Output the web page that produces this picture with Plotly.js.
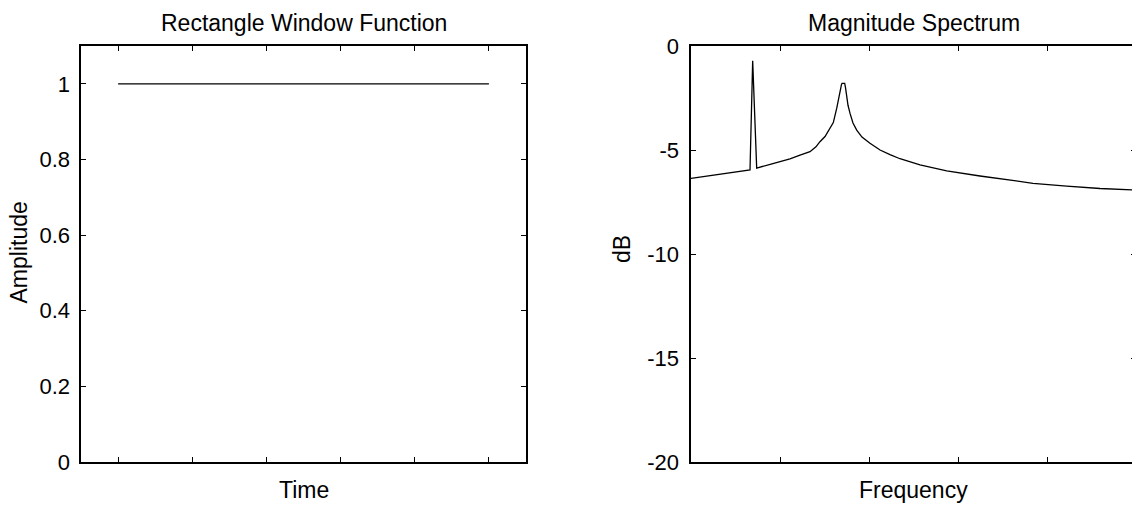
<!DOCTYPE html>
<html>
<head>
<meta charset="utf-8">
<script src="https://cdn.plot.ly/plotly-3.0.1.min.js"></script>
<style>
html, body { margin: 0; padding: 0; overflow: hidden; background: #fff; }
#chart { width: 1140px; height: 512px; }
</style>
</head>
<body>
<div id="chart"></div>
<script>
// Rectangle window (time domain)
var windowTime = [0, 100, 200, 300, 400, 500];
var windowAmp = [1, 1, 1, 1, 1, 1];
var timeTicks = [0, 100, 200, 300, 400, 500];
var ampTicks = [0, 0.2, 0.4, 0.6, 0.8, 1];
var ampLabels = ['0', '0.2', '0.4', '0.6', '0.8', '1'];

// Magnitude spectrum (dB)
var freq = [0, 33, 66.3, 69.3, 73.8, 92, 111.2, 122.5, 133.7, 140.4, 144.9, 150.6, 156.2, 159.9,
            163.7, 165.5, 167.4, 169.1, 169.7, 172.7, 173.6, 174.9, 176.4, 178.7, 182, 186.2,
            192.1, 201.1, 212.4, 223.6, 234.8, 257.3, 287.3, 324.7, 358.4, 384.3, 422.1, 459.6, 500];
var magDb = [-6.36, -6.17, -5.96, -0.71, -5.87, -5.65, -5.43, -5.25, -5.08, -4.85, -4.6, -4.35, -3.96, -3.68,
             -3.0, -2.55, -2.2, -1.85, -1.8, -1.8, -2.0, -2.4, -2.85, -3.24, -3.7, -4.04,
             -4.38, -4.68, -5.0, -5.22, -5.42, -5.72, -6.0, -6.25, -6.45, -6.6, -6.74, -6.85, -6.93];
var freqTicks = [0, 100, 200, 300, 400, 500];
var dbTicks = [-20, -15, -10, -5, 0];
var dbLabels = ['-20', '-15', '-10', '-5', '0'];

var W = 1140, H = 512;
function px(x) { return x / W; }
function py(y) { return 1 - y / H; }

var FONT = 'Liberation Sans, Arial, Helvetica, sans-serif';

var traces = [
  { x: windowTime, y: windowAmp, type: 'scatter', mode: 'lines',
    line: { color: '#000', width: 1.2 }, xaxis: 'x', yaxis: 'y', hoverinfo: 'none' },
  { x: freq, y: magDb, type: 'scatter', mode: 'lines',
    line: { color: '#000', width: 1.3, shape: 'linear' }, xaxis: 'x2', yaxis: 'y2', hoverinfo: 'none' }
];

var axCommon = {
  showline: true, linecolor: '#000', linewidth: 1.6, mirror: 'ticks',
  ticks: 'inside', ticklen: 5, tickcolor: '#000', tickwidth: 1,
  showgrid: false, zeroline: false, automargin: false,
  tickfont: { family: FONT, size: 22, color: '#000' }
};

function ax(extra) { return Object.assign({}, axCommon, extra); }

var layout = {
  width: W, height: H,
  margin: { l: 0, r: 0, t: 0, b: 0 },
  paper_bgcolor: '#fff', plot_bgcolor: '#fff',
  showlegend: false,
  font: { family: FONT, size: 22, color: '#000' },
  xaxis: ax({ domain: [px(81), px(526)], range: [-50, 550], tickvals: timeTicks,
              showticklabels: false, anchor: 'y' }),
  yaxis: ax({ domain: [py(462), py(46)], range: [0, 1.1], tickmode: 'array',
              tickvals: ampTicks, ticktext: ampLabels, anchor: 'x', ticklabelstandoff: 5 }),
  xaxis2: ax({ domain: [px(691), px(1136)], range: [0, 500], tickvals: freqTicks,
               showticklabels: false, anchor: 'y2' }),
  yaxis2: ax({ domain: [py(462), py(46)], range: [-20, 0], tickmode: 'array',
               tickvals: dbTicks, ticktext: dbLabels, anchor: 'x2', ticklabelstandoff: 6 }),
  annotations: [
    { text: 'Rectangle Window Function', xref: 'paper', yref: 'paper', x: px(303.5), y: py(22.5),
      xanchor: 'center', yanchor: 'middle', showarrow: false, font: { size: 23 } },
    { text: 'Magnitude Spectrum', xref: 'paper', yref: 'paper', x: px(913.5), y: py(22.5),
      xanchor: 'center', yanchor: 'middle', showarrow: false, font: { size: 23 } },
    { text: 'Time', xref: 'paper', yref: 'paper', x: px(303.5), y: py(490),
      xanchor: 'center', yanchor: 'middle', showarrow: false, font: { size: 23 } },
    { text: 'Frequency', xref: 'paper', yref: 'paper', x: px(913.5), y: py(490),
      xanchor: 'center', yanchor: 'middle', showarrow: false, font: { size: 23 } },
    { text: 'Amplitude', xref: 'paper', yref: 'paper', x: px(18.5), y: py(253),
      xanchor: 'center', yanchor: 'middle', textangle: -90, showarrow: false, font: { size: 23 } },
    { text: 'dB', xref: 'paper', yref: 'paper', x: px(622), y: py(249),
      xanchor: 'center', yanchor: 'middle', textangle: -90, showarrow: false, font: { size: 23 } }
  ]
};

Plotly.newPlot('chart', traces, layout, { staticPlot: true, displayModeBar: false });
</script>
</body>
</html>
